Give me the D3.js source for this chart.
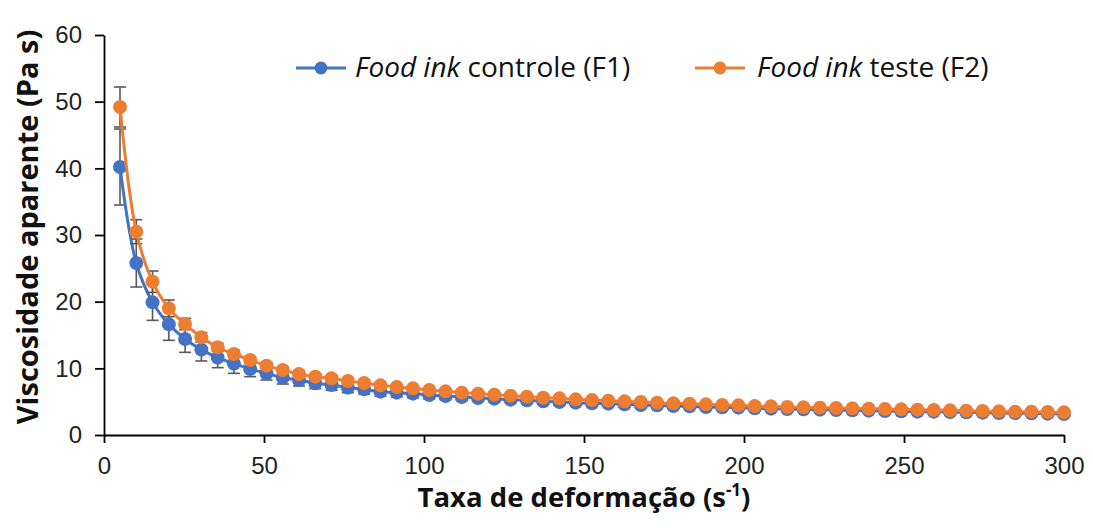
<!DOCTYPE html>
<html><head><meta charset="utf-8">
<script src="https://cdn.jsdelivr.net/npm/d3@7"></script>
<style>body{margin:0;background:#fff}svg{display:block}</style>
</head><body><div id="chart"></div>
<script>
const shearRate = [5.0,10.09,15.17,20.26,25.34,30.43,35.52,40.60,45.69,50.78,55.86,60.95,66.03,71.12,76.21,81.29,86.38,91.47,96.55,101.64,106.72,111.81,116.90,121.98,127.07,132.16,137.24,142.33,147.41,152.50,157.59,162.67,167.76,172.84,177.93,183.02,188.10,193.19,198.28,203.36,208.45,213.53,218.62,223.71,228.79,233.88,238.97,244.05,249.14,254.22,259.31,264.40,269.48,274.57,279.66,284.74,289.83,294.91,300.0];
const f1Values = [40.2,25.8,19.9,16.6,14.4,12.8,11.6,10.7,9.9,9.25,8.6,8.25,7.75,7.5,7.1,6.85,6.5,6.35,6.2,6.0,5.85,5.7,5.55,5.45,5.3,5.2,5.05,4.95,4.85,4.75,4.7,4.6,4.5,4.45,4.35,4.3,4.2,4.15,4.1,4.0,3.95,3.9,3.85,3.8,3.75,3.7,3.65,3.6,3.55,3.5,3.5,3.45,3.4,3.35,3.3,3.3,3.25,3.2,3.15];
const f1Errors = [5.7,3.6,2.7,2.4,2.0,1.7,1.5,1.45,1.15,1.0,0.95,0.9,0.8,0.8,0.75,0.7,0.7,0.65,0.6,0.6,0.55,0.55,0.5,0.5,0.5,0.45,0.45,0.45,0.4,0.4,0.4,0.4,0.4,0.35,0.35,0.35,0.35,0.35,0.35,0.3,0.3,0.3,0.3,0.3,0.3,0.3,0.3,0.3,0.3,0.3,0.3,0.3,0.3,0.3,0.3,0.3,0.3,0.3,0.3];
const f2Values = [49.2,30.5,23.0,19.0,16.65,14.65,13.15,12.15,11.25,10.4,9.75,9.15,8.75,8.5,8.1,7.8,7.45,7.2,7.0,6.75,6.55,6.35,6.2,6.05,5.9,5.75,5.6,5.5,5.35,5.25,5.15,5.05,4.95,4.85,4.75,4.7,4.6,4.5,4.45,4.35,4.3,4.2,4.15,4.1,4.05,4.0,3.95,3.9,3.85,3.8,3.75,3.7,3.65,3.6,3.55,3.5,3.5,3.45,3.4];
const f2Errors = [3.0,1.8,1.6,1.25,0.85,0.7,0.6,0.55,0.5,0.5,0.45,0.45,0.4,0.4,0.4,0.35,0.35,0.35,0.3,0.3,0.3,0.3,0.3,0.3,0.3,0.25,0.25,0.25,0.25,0.25,0.25,0.25,0.25,0.25,0.25,0.2,0.2,0.2,0.2,0.2,0.2,0.2,0.2,0.2,0.2,0.2,0.2,0.2,0.2,0.2,0.2,0.2,0.2,0.2,0.2,0.2,0.2,0.2,0.2];
const xTicks = [0,50,100,150,200,250,300];
const yTicks = [0,10,20,30,40,50,60];
const seriesNames = ["controle (F1)", "teste (F2)"];
const seriesColors = ["#4472C4", "#ED7D31"];

const W = 1093, H = 528;
const m = {left:104, right:29, top:35, bottom:93};
const svg = d3.select("#chart").append("svg").attr("width", W).attr("height", H);
const x = d3.scaleLinear().domain([0,300]).range([m.left, W - m.right]);
const y = d3.scaleLinear().domain([0,60]).range([H - m.bottom, m.top]);

// axes
const xAxis = svg.append("g").attr("transform", `translate(0,${y(0)})`)
  .call(d3.axisBottom(x).tickValues(xTicks).tickSize(8).tickSizeOuter(0).tickPadding(14));
const yAxis = svg.append("g").attr("transform", `translate(${x(0)},0)`)
  .call(d3.axisLeft(y).tickValues(yTicks).tickSize(9).tickSizeOuter(0).tickPadding(13));
[xAxis, yAxis].forEach(g => {
  g.select(".domain").attr("stroke", "#000").attr("stroke-width", 1.8);
  g.selectAll(".tick line").attr("stroke", "#000").attr("stroke-width", 1.8);
  g.selectAll(".tick text").attr("fill", "#222").style("font-family", "'Liberation Sans', Arial, sans-serif").style("font-size", "24px");
});

const series = [
  {vals: f1Values, errs: f1Errors, color: seriesColors[0]},
  {vals: f2Values, errs: f2Errors, color: seriesColors[1]}
];
const line = d3.line().x((d,i) => x(shearRate[i])).y(d => y(d)).curve(d3.curveCatmullRom.alpha(0.5));

series.forEach(s => {
  const g = svg.append("g");
  const eb = g.append("g").attr("stroke", "#595959").attr("stroke-width", 1.6);
  s.vals.forEach((v,i) => {
    const cx = x(shearRate[i]);
    const y1 = y(v + s.errs[i]), y2 = y(v - s.errs[i]);
    eb.append("line").attr("x1", cx).attr("x2", cx).attr("y1", y1).attr("y2", y2);
    eb.append("line").attr("x1", cx-6).attr("x2", cx+6).attr("y1", y1).attr("y2", y1);
    eb.append("line").attr("x1", cx-6).attr("x2", cx+6).attr("y1", y2).attr("y2", y2);
  });
  g.append("path").datum(s.vals).attr("d", line).attr("fill", "none")
    .attr("stroke", s.color).attr("stroke-width", 3);
  g.selectAll("circle").data(s.vals).join("circle")
    .attr("cx", (d,i) => x(shearRate[i])).attr("cy", d => y(d)).attr("r", 7)
    .attr("fill", s.color);
});

// legend
const legendItems = [{x0: 296, tx: 355}, {x0: 695, tx: 757}];
legendItems.forEach((L, k) => {
  const ly = 68;
  svg.append("line").attr("x1", L.x0).attr("x2", L.x0 + 50).attr("y1", ly).attr("y2", ly)
    .attr("stroke", seriesColors[k]).attr("stroke-width", 3);
  svg.append("circle").attr("cx", L.x0 + 25).attr("cy", ly).attr("r", 6.5).attr("fill", seriesColors[k]);
  const t = svg.append("text").attr("x", L.tx).attr("y", 77)
    .style("font-family", "'Open Sans', sans-serif").style("font-size", "28px").attr("fill", "#111");
  t.append("tspan").style("font-style", "italic").text("Food ink");
  t.append("tspan").text(" " + seriesNames[k]);
});

// axis titles
const xt = svg.append("text").attr("x", (x(0)+x(300))/2).attr("y", 507).attr("text-anchor", "middle")
  .style("font-family", "'Open Sans', sans-serif").style("font-size", "27.5px").style("font-weight", "bold").attr("fill", "#111");
xt.append("tspan").text("Taxa de deformação (s");
xt.append("tspan").attr("dy", -11).style("font-size", "17px").text("-1");
xt.append("tspan").attr("dy", 11).text(")");

svg.append("text").attr("transform", `translate(38,${227}) rotate(-90)`).attr("text-anchor", "middle")
  .style("font-family", "'Open Sans', sans-serif").style("font-size", "29px").style("font-weight", "bold").attr("fill", "#111")
  .text("Viscosidade aparente (Pa s)");
</script></body></html>
